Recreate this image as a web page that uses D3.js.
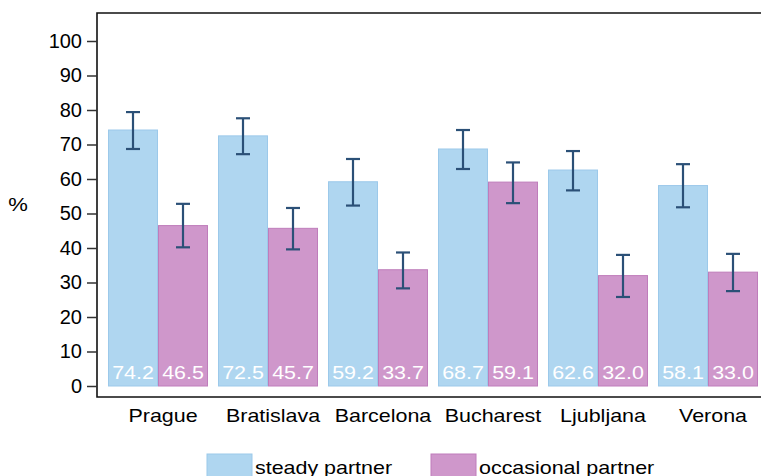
<!DOCTYPE html>
<html>
<head>
<meta charset="utf-8">
<script src="https://cdn.jsdelivr.net/npm/d3@7"></script>
<style>
  body { margin: 0; background: #fff; }
  text { font-family: "Liberation Sans", Arial, sans-serif; }
</style>
</head>
<body>
<div id="vis"></div>
<script>
const FRAME_WIDTH = 761;
const FRAME_HEIGHT = 476;

// data
const cities = ["Prague", "Bratislava", "Barcelona", "Bucharest", "Ljubljana", "Verona"];
const steady = [74.2, 72.5, 59.2, 68.7, 62.6, 58.1];
const occasional = [46.5, 45.7, 33.7, 59.1, 32.0, 33.0];
const steadyLo = [68.7, 67.2, 52.3, 62.9, 56.7, 51.8];
const steadyHi = [79.4, 77.6, 65.8, 74.2, 68.1, 64.3];
const occLo = [40.2, 39.6, 28.3, 53.0, 25.8, 27.5];
const occHi = [52.8, 51.6, 38.7, 64.8, 38.0, 38.3];
const yTicks = [0, 10, 20, 30, 40, 50, 60, 70, 80, 90, 100];
const seriesNames = ["steady partner", "occasional partner"];

const COLORS = [
  {fill: "#afd6f0", stroke: "#9cc9ea"},
  {fill: "#cf97cb", stroke: "#bf7dbb"}
];
const ERR = "#2b5077";
const SX = 1.16; // text in the reference is a bit wide

const svg = d3.select("#vis")
  .append("svg")
    .attr("width", FRAME_WIDTH)
    .attr("height", FRAME_HEIGHT);

const AXIS_X = 97, AXIS_Y = 397, TOP = 13;

const y = d3.scaleLinear()
  .domain([0, 100])
  .range([386, 41]);

const x = d3.scaleBand()
  .domain(cities)
  .range([103, 763])
  .paddingInner(10 / 110)
  .paddingOuter(5 / 110);

const xs = d3.scaleBand()
  .domain([0, 1])
  .range([0, x.bandwidth()]);

const rows = cities.map((c, i) => ({
  city: c,
  vals: [
    {s: 0, v: steady[i], lo: steadyLo[i], hi: steadyHi[i]},
    {s: 1, v: occasional[i], lo: occLo[i], hi: occHi[i]}
  ]
}));

// frame (left + top + bottom)
svg.append("path")
  .attr("d", `M${FRAME_WIDTH},${TOP}H${AXIS_X}V${AXIS_Y}H${FRAME_WIDTH}`)
  .attr("fill", "none")
  .attr("stroke", "#111")
  .attr("stroke-width", 1.6);

// y axis
const yAxis = svg.append("g")
  .attr("transform", `translate(${AXIS_X},0)`)
  .call(d3.axisLeft(y).tickValues(yTicks).tickSize(10).tickPadding(5));
yAxis.select(".domain").remove();
yAxis.selectAll("line").attr("stroke", "#333").attr("stroke-width", 1.5);
yAxis.selectAll("text")
  .attr("font-size", 20)
  .attr("fill", "#000")
  .style("font-family", "Liberation Sans, Arial, sans-serif");

svg.append("text")
  .attr("transform", `translate(18,211) scale(${SX},1)`)
  .attr("text-anchor", "middle")
  .attr("font-size", 19)
  .text("%");

// bars
const groups = svg.selectAll(".grp")
  .data(rows)
  .enter()
  .append("g")
    .attr("transform", d => `translate(${x(d.city)},0)`);

groups.selectAll("rect")
  .data(d => d.vals)
  .enter()
  .append("rect")
    .attr("x", d => xs(d.s) + 0.5)
    .attr("y", d => y(d.v))
    .attr("width", xs.bandwidth() - 1)
    .attr("height", d => y(0) - y(d.v))
    .attr("fill", d => COLORS[d.s].fill)
    .attr("stroke", d => COLORS[d.s].stroke)
    .attr("stroke-width", 1);

// error bars
const eb = groups.selectAll(".err")
  .data(d => d.vals)
  .enter()
  .append("g")
    .attr("stroke", ERR)
    .attr("stroke-width", 2.2);
eb.append("line")
  .attr("x1", d => xs(d.s) + xs.bandwidth() / 2)
  .attr("x2", d => xs(d.s) + xs.bandwidth() / 2)
  .attr("y1", d => y(d.lo))
  .attr("y2", d => y(d.hi));
eb.append("line")
  .attr("x1", d => xs(d.s) + xs.bandwidth() / 2 - 7)
  .attr("x2", d => xs(d.s) + xs.bandwidth() / 2 + 7)
  .attr("y1", d => y(d.hi))
  .attr("y2", d => y(d.hi));
eb.append("line")
  .attr("x1", d => xs(d.s) + xs.bandwidth() / 2 - 7)
  .attr("x2", d => xs(d.s) + xs.bandwidth() / 2 + 7)
  .attr("y1", d => y(d.lo))
  .attr("y2", d => y(d.lo));

// value labels
groups.selectAll(".lab")
  .data(d => d.vals)
  .enter()
  .append("text")
    .attr("transform", d => `translate(${xs(d.s) + xs.bandwidth() / 2},379) scale(${SX},1)`)
    .attr("text-anchor", "middle")
    .attr("font-size", 18.5)
    .attr("fill", "#fff")
    .text(d => d.v.toFixed(1));

// x labels
svg.selectAll(".xl")
  .data(cities)
  .enter()
  .append("text")
    .attr("transform", d => `translate(${x(d) + x.bandwidth() / 2 + 5},422) scale(${SX},1)`)
    .attr("text-anchor", "middle")
    .attr("font-size", 18.5)
    .text(d => d);

// legend
const legX = [207, 431];
const leg = svg.selectAll(".leg")
  .data(seriesNames)
  .enter()
  .append("g")
    .attr("transform", (d, i) => `translate(${legX[i]},454)`);
leg.append("rect")
  .attr("width", 45).attr("height", 30)
  .attr("fill", (d, i) => COLORS[i].fill)
  .attr("stroke", (d, i) => COLORS[i].stroke);
leg.append("text")
  .attr("transform", `translate(48,20) scale(${SX},1)`)
  .attr("font-size", 18.5)
  .text(d => d);
</script>
</body>
</html>
